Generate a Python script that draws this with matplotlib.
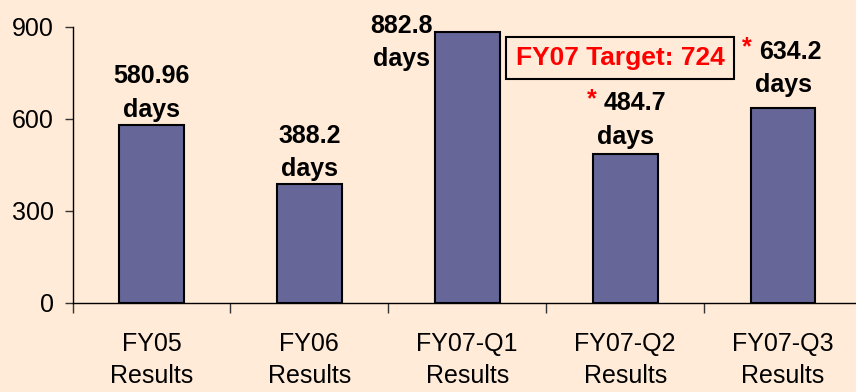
import numpy as np
import matplotlib.pyplot as plt

plt.rcParams['font.family'] = ['Liberation Sans', 'DejaVu Sans']

# Cycle time results
periods = ["FY05\nResults", "FY06\nResults", "FY07-Q1\nResults",
           "FY07-Q2\nResults", "FY07-Q3\nResults"]
days = [580.96, 388.2, 882.8, 484.7, 634.2]
value_text = ["580.96", "388.2", "882.8", "484.7", "634.2"]
starred = [False, False, False, True, True]
target = 724

bg = '#FFEBD7'
bar_color = '#666699'

fig = plt.figure(figsize=(8.56, 3.92), dpi=100, facecolor=bg)
ax = fig.add_axes([0.0847, 0.2278, 0.9223, 0.7041], facecolor=bg)

x = np.arange(len(days))
ax.bar(x, days, width=0.41, color=bar_color, edgecolor='black', linewidth=1.5, zorder=3)

ax.set_xlim(-0.5, 4.5)
ax.set_ylim(0, 900)
ax.set_yticks([0, 300, 600, 900])
ax.tick_params(axis='y', labelsize=18, length=5.5, width=1, pad=8, color='#333333')

# category labels at centres, tick marks between categories
ax.set_xticks(x)
ax.set_xticklabels(periods, fontsize=18, linespacing=1.45)
ax.tick_params(axis='x', which='major', length=0, pad=21)
ax.set_xticks(np.arange(-0.5, 5, 1), minor=True)
ax.tick_params(axis='x', which='minor', length=7, width=1, direction='out', color='#333333')

for s in ['top', 'right']:
    ax.spines[s].set_visible(False)
for s in ['left', 'bottom']:
    ax.spines[s].set_linewidth(1)

# (dx, dy) offsets in points for the value labels
num_offsets = [(0, 0), (0, 0), (0, 0), (7, 0), (5, 0)]
days_offsets = [(0, 2), (0, 2), (-47, -28), (0, 4), (0, 8)]

for i, v in enumerate(days):
    ddx, ddy = days_offsets[i]
    ax.annotate("days", (x[i], v), xytext=(ddx, ddy), textcoords='offset points',
                ha='center', va='bottom', fontsize=18, fontweight='bold')
    ndx, ndy = num_offsets[i]
    ax.annotate(value_text[i], (x[i], v), xytext=(ddx + ndx, ddy + ndy + 24),
                textcoords='offset points', ha='center', va='bottom',
                fontsize=18, fontweight='bold')
    if starred[i]:
        ax.annotate("*", (x[i], v), xytext=(ddx + ndx - 31, ddy + ndy + 27),
                    textcoords='offset points', ha='center', va='bottom',
                    fontsize=18, fontweight='bold', color='red')

ax.text(2.967, 798, "FY07 Target: %d" % target, ha='center', va='center',
        fontsize=19, fontweight='bold', color='red',
        bbox=dict(boxstyle='square,pad=0.35', facecolor=bg, edgecolor='black', linewidth=1.5))

fig.savefig('out.png', dpi=100, facecolor=bg)
